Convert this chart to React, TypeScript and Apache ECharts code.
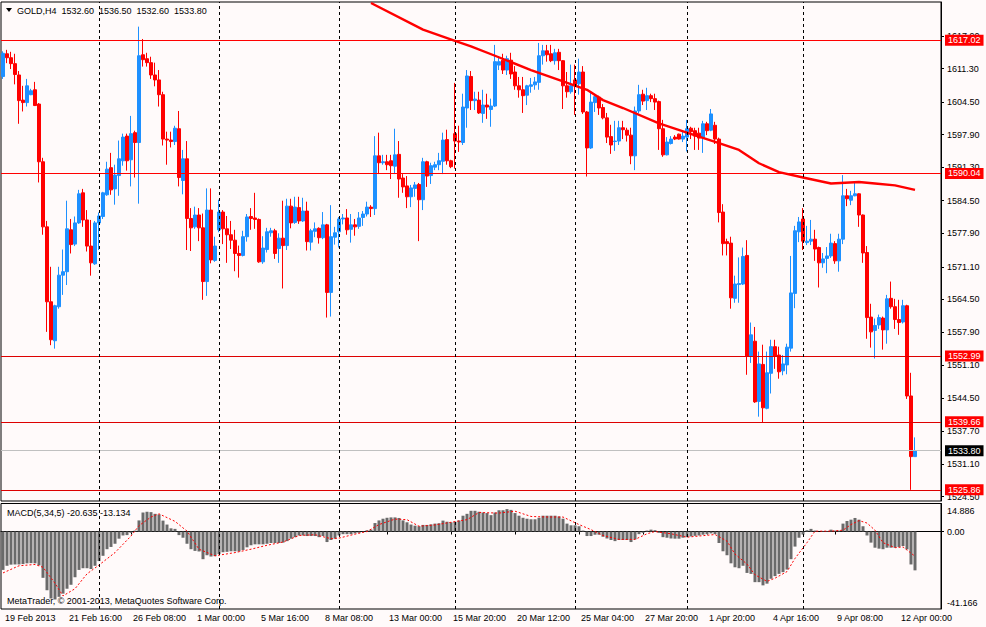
import React, { useEffect, useRef } from "react";
import * as echarts from "echarts";

const symbolName = "GOLD,H4";

const opens = [
  1609.7, 1614.3, 1613.5, 1612.3, 1610.0, 1604.9, 1604.4, 1606.0, 1607.0, 1604.1,
  1592.4, 1579.2, 1564.0, 1556.1, 1563.0, 1569.4, 1570.1, 1578.6, 1575.7, 1580.0,
  1586.1, 1580.6, 1575.3, 1571.7, 1580.0, 1581.3, 1585.7, 1591.2, 1586.9, 1589.6,
  1592.6, 1597.6, 1592.8, 1598.3, 1596.3, 1614.1, 1613.3, 1612.5, 1610.0, 1609.0,
  1606.0, 1597.0, 1596.8, 1596.5, 1599.1, 1588.6, 1593.0, 1580.9, 1579.2, 1581.6,
  1579.0, 1568.1, 1582.6, 1572.4, 1578.6, 1582.2, 1578.8, 1577.6, 1576.5, 1573.8,
  1573.4, 1577.2, 1581.3, 1581.0, 1580.7, 1572.1, 1574.6, 1578.0, 1578.4, 1574.8,
  1576.9, 1575.4, 1583.4, 1580.1, 1583.1, 1580.4, 1582.4, 1576.1, 1578.3, 1578.9,
  1577.0, 1579.6, 1565.9, 1577.1, 1578.2, 1580.8, 1581.0, 1578.7, 1579.6, 1579.3,
  1581.1, 1581.8, 1583.2, 1582.9, 1593.6, 1592.2, 1592.4, 1592.6, 1591.5, 1593.9,
  1589.1, 1587.5, 1585.3, 1587.0, 1587.8, 1584.7, 1592.4, 1589.6, 1591.3, 1591.8,
  1592.5, 1596.9, 1592.6, 1598.1, 1596.6, 1596.3, 1603.3, 1609.7, 1604.8, 1604.9,
  1602.2, 1603.9, 1603.0, 1603.7, 1612.0, 1613.0, 1611.0, 1613.0, 1610.6, 1607.8,
  1607.0, 1605.9, 1607.7, 1608.0, 1608.5, 1613.9, 1614.9, 1614.3, 1612.9, 1614.6,
  1612.9, 1607.8, 1606.6, 1609.0, 1608.2, 1610.6, 1602.5, 1595.2, 1604.4, 1605.5,
  1603.4, 1601.3, 1597.5, 1596.5, 1596.6, 1599.3, 1598.8, 1597.8, 1593.6, 1602.7,
  1606.1, 1604.8, 1605.8, 1605.2, 1604.6, 1599.1, 1593.8, 1596.1, 1597.4, 1598.0,
  1597.0, 1597.4, 1599.2, 1598.7, 1598.2, 1597.3, 1600.1, 1598.8, 1599.8, 1597.0,
  1582.2, 1576.2, 1575.9, 1564.7, 1567.5, 1567.6, 1573.4, 1552.9, 1556.0, 1543.8,
  1551.3, 1542.4, 1549.5, 1554.9, 1553.2, 1550.0, 1551.2, 1554.6, 1565.7, 1578.2,
  1580.8, 1576.0, 1576.3, 1576.7, 1575.0, 1571.9, 1572.8, 1573.3, 1575.8, 1572.3,
  1576.7, 1585.5, 1584.6, 1585.5, 1585.9, 1581.6, 1574.0, 1560.9, 1558.2, 1559.3,
  1560.7, 1558.3, 1564.7, 1563.0, 1560.4, 1559.9, 1563.2, 1544.9, 1532.6,
];

const highs = [
  1614.8, 1615.1, 1614.7, 1614.3, 1610.8, 1607.8, 1609.2, 1607.2, 1608.6, 1604.3,
  1593.2, 1580.4, 1571.1, 1563.4, 1571.1, 1574.6, 1584.5, 1580.8, 1581.3, 1586.7,
  1586.9, 1582.6, 1580.6, 1580.4, 1582.1, 1586.3, 1592.4, 1594.2, 1591.8, 1596.7,
  1598.1, 1598.1, 1601.7, 1598.7, 1619.8, 1617.3, 1614.5, 1613.7, 1612.5, 1611.0,
  1606.6, 1598.5, 1598.5, 1599.7, 1602.7, 1594.8, 1596.6, 1583.0, 1583.3, 1583.0,
  1581.9, 1587.0, 1587.0, 1577.2, 1584.7, 1582.6, 1581.4, 1580.4, 1578.6, 1575.4,
  1578.4, 1581.8, 1583.0, 1586.1, 1580.9, 1577.3, 1579.0, 1579.0, 1578.8, 1577.9,
  1584.5, 1584.9, 1584.9, 1585.3, 1585.3, 1585.1, 1584.3, 1578.8, 1580.1, 1579.1,
  1582.2, 1579.8, 1583.6, 1579.2, 1581.2, 1581.8, 1582.8, 1581.8, 1580.8, 1582.2,
  1582.4, 1584.3, 1583.6, 1597.6, 1598.3, 1593.8, 1593.8, 1593.8, 1599.1, 1596.6,
  1589.9, 1589.5, 1587.7, 1588.3, 1588.1, 1593.2, 1592.6, 1592.2, 1592.4, 1594.2,
  1598.3, 1598.9, 1592.8, 1608.4, 1599.7, 1606.2, 1611.0, 1610.8, 1606.6, 1606.6,
  1607.0, 1606.2, 1605.2, 1616.1, 1613.5, 1614.3, 1613.9, 1614.5, 1611.8, 1609.6,
  1609.6, 1608.0, 1609.4, 1609.6, 1616.5, 1616.1, 1616.1, 1616.1, 1615.3, 1615.3,
  1613.0, 1610.6, 1612.1, 1612.1, 1613.3, 1611.8, 1602.7, 1606.6, 1606.0, 1605.8,
  1604.1, 1602.3, 1599.9, 1600.7, 1600.7, 1600.7, 1599.3, 1599.3, 1603.6, 1608.0,
  1607.0, 1607.4, 1606.2, 1606.2, 1604.8, 1600.9, 1597.4, 1597.6, 1597.8, 1598.1,
  1598.5, 1600.9, 1599.5, 1599.3, 1599.3, 1600.7, 1600.5, 1603.1, 1600.5, 1597.3,
  1583.8, 1576.8, 1577.2, 1569.3, 1573.0, 1575.0, 1576.5, 1559.8, 1558.9, 1553.9,
  1555.3, 1553.9, 1556.3, 1556.3, 1554.9, 1553.2, 1555.5, 1573.3, 1579.4, 1581.2,
  1583.0, 1579.4, 1580.6, 1578.6, 1575.2, 1573.9, 1575.1, 1577.8, 1576.3, 1577.8,
  1589.7, 1586.9, 1586.5, 1588.1, 1586.0, 1581.7, 1575.3, 1563.6, 1560.6, 1561.4,
  1561.0, 1565.4, 1568.1, 1564.6, 1564.4, 1564.4, 1563.4, 1549.6, 1536.5,
];

const lows = [
  1609.2, 1612.4, 1611.2, 1608.1, 1600.1, 1602.6, 1603.6, 1605.9, 1603.7, 1588.2,
  1577.6, 1557.9, 1555.2, 1554.5, 1562.6, 1565.4, 1567.4, 1573.8, 1575.3, 1579.8,
  1579.2, 1574.2, 1569.3, 1571.5, 1574.5, 1580.8, 1585.5, 1585.7, 1583.7, 1585.5,
  1591.6, 1590.6, 1587.4, 1589.2, 1583.9, 1611.7, 1611.7, 1609.2, 1607.7, 1603.6,
  1595.7, 1591.8, 1595.3, 1595.8, 1587.4, 1585.8, 1574.5, 1574.3, 1578.8, 1576.3,
  1564.4, 1565.2, 1571.8, 1572.1, 1578.1, 1575.7, 1571.9, 1574.7, 1570.2, 1568.9,
  1573.2, 1576.2, 1578.6, 1578.8, 1571.9, 1571.7, 1574.0, 1577.2, 1572.7, 1571.9,
  1566.7, 1574.5, 1578.9, 1579.8, 1579.8, 1580.2, 1574.4, 1574.4, 1577.1, 1575.8,
  1576.7, 1560.8, 1561.0, 1575.6, 1575.0, 1579.7, 1577.6, 1576.0, 1577.4, 1578.8,
  1579.4, 1581.3, 1581.2, 1581.6, 1589.9, 1591.8, 1590.7, 1588.9, 1589.9, 1585.1,
  1586.1, 1583.0, 1583.2, 1585.3, 1576.3, 1582.6, 1587.3, 1587.9, 1590.7, 1590.7,
  1589.9, 1591.8, 1591.1, 1591.0, 1594.4, 1595.8, 1599.3, 1602.9, 1602.9, 1602.1,
  1600.3, 1601.1, 1599.5, 1603.5, 1611.0, 1610.2, 1610.0, 1609.2, 1607.0, 1605.4,
  1602.3, 1603.9, 1606.4, 1607.0, 1607.0, 1612.1, 1612.7, 1612.6, 1612.1, 1611.0,
  1603.1, 1605.4, 1606.2, 1601.9, 1606.0, 1602.1, 1589.4, 1595.0, 1602.5, 1601.9,
  1601.0, 1596.2, 1594.0, 1594.6, 1595.8, 1597.0, 1596.5, 1591.9, 1590.7, 1602.2,
  1603.9, 1602.9, 1604.5, 1602.9, 1594.8, 1593.4, 1593.7, 1595.9, 1596.8, 1596.9,
  1596.4, 1594.5, 1597.0, 1594.8, 1594.8, 1594.2, 1597.8, 1598.6, 1596.0, 1580.1,
  1573.4, 1573.4, 1562.6, 1563.8, 1563.8, 1567.4, 1549.2, 1551.6, 1543.5, 1540.7,
  1539.5, 1542.2, 1545.4, 1550.4, 1548.4, 1549.1, 1549.3, 1553.9, 1562.7, 1576.1,
  1574.5, 1575.5, 1575.5, 1572.3, 1566.9, 1570.9, 1569.8, 1572.9, 1571.7, 1570.1,
  1575.7, 1583.4, 1583.6, 1585.4, 1579.2, 1571.9, 1556.5, 1554.7, 1552.5, 1558.5,
  1554.3, 1555.5, 1562.6, 1558.5, 1557.3, 1559.6, 1544.3, 1525.86, 1532.6,
];

const closes = [
  1614.4, 1613.5, 1612.3, 1610.1, 1604.8, 1604.4, 1607.8, 1606.8, 1603.8, 1592.4,
  1579.2, 1564.0, 1556.3, 1563.2, 1569.4, 1570.1, 1578.8, 1575.6, 1580.0, 1585.9,
  1580.6, 1575.3, 1571.9, 1580.0, 1581.4, 1586.1, 1590.9, 1586.7, 1589.7, 1593.0,
  1597.4, 1592.6, 1598.1, 1596.3, 1613.9, 1613.1, 1612.5, 1610.0, 1609.0, 1606.0,
  1597.0, 1596.8, 1596.5, 1599.2, 1589.2, 1593.0, 1580.9, 1579.0, 1581.6, 1579.0,
  1568.1, 1582.6, 1572.5, 1575.3, 1582.2, 1578.8, 1577.6, 1576.5, 1573.8, 1573.4,
  1577.2, 1581.2, 1580.9, 1580.7, 1572.1, 1574.9, 1578.2, 1578.4, 1573.8, 1576.9,
  1575.4, 1583.4, 1580.0, 1583.2, 1580.4, 1582.4, 1576.2, 1578.4, 1578.8, 1577.0,
  1579.6, 1565.9, 1577.2, 1578.0, 1580.8, 1581.0, 1578.6, 1579.6, 1579.2, 1581.0,
  1581.8, 1583.2, 1582.9, 1593.6, 1592.2, 1592.4, 1591.8, 1591.6, 1593.8, 1588.9,
  1587.3, 1585.3, 1587.1, 1587.7, 1584.7, 1592.4, 1589.5, 1591.6, 1591.8, 1592.6,
  1596.8, 1592.6, 1591.4, 1596.6, 1596.4, 1603.5, 1609.8, 1604.8, 1605.1, 1602.3,
  1603.9, 1603.5, 1603.7, 1612.7, 1612.7, 1611.0, 1613.3, 1610.2, 1607.8, 1607.0,
  1605.8, 1607.8, 1608.0, 1608.6, 1613.9, 1614.9, 1614.1, 1612.9, 1614.5, 1612.9,
  1607.8, 1606.6, 1607.8, 1607.8, 1610.6, 1602.5, 1595.2, 1604.5, 1605.6, 1603.3,
  1601.3, 1597.4, 1595.8, 1596.6, 1599.3, 1598.9, 1597.8, 1593.6, 1602.7, 1606.0,
  1604.7, 1605.8, 1605.2, 1604.5, 1599.1, 1593.8, 1596.4, 1597.0, 1597.0, 1597.0,
  1597.6, 1599.1, 1598.5, 1597.6, 1597.2, 1600.1, 1598.7, 1602.1, 1597.0, 1582.1,
  1575.8, 1575.8, 1564.8, 1567.6, 1567.7, 1573.2, 1552.9, 1557.3, 1543.7, 1551.4,
  1542.5, 1549.6, 1554.9, 1552.9, 1549.8, 1551.4, 1554.8, 1565.8, 1578.4, 1580.2,
  1576.3, 1576.3, 1576.7, 1574.7, 1571.9, 1572.7, 1573.3, 1575.9, 1572.3, 1576.7,
  1585.5, 1584.9, 1585.5, 1585.9, 1581.6, 1573.9, 1560.8, 1557.9, 1559.2, 1560.8,
  1558.3, 1564.6, 1563.0, 1560.4, 1559.8, 1563.2, 1544.9, 1532.6, 1533.8,
];

// moving average read at points along the line: [bar index, price]
const maPoints = [
  [92, 1624.6], [105, 1619.2], [113, 1616.9], [117, 1615.8], [123, 1613.9],
  [132, 1611.0], [140, 1608.7], [146, 1607.0], [150, 1604.9], [155, 1603.3],
  [164, 1600.2], [174, 1597.5], [179, 1596.2], [184, 1594.8], [189, 1592.1],
  [194, 1590.3], [200, 1589.2], [207, 1588.0], [214, 1588.3], [218, 1588.0],
  [223, 1587.6], [228, 1586.7],
];

const macdHist = [
  -20.4, -18.2, -17.6, -17.5, -17.5, -17.3, -16.9, -16.8, -16.9, -18.0,
  -24.6, -31.2, -35.6, -36.1, -34.7, -33.0, -30.4, -28.3, -24.3, -20.4,
  -19.5, -19.5, -19.9, -18.2, -15.7, -12.9, -9.4, -8.2, -6.5, -3.8,
  -2.1, -1.9, -0.7, 0.5, 5.9, 10.1, 10.5, 10.3, 9.4, 9.1,
  5.8, 3.7, 1.7, 1.4, -1.9, -3.3, -6.5, -9.4, -10.3, -10.6,
  -14.7, -12.6, -13.3, -13.1, -12.0, -11.0, -10.8, -10.5, -10.5, -10.6,
  -9.8, -8.4, -7.3, -6.8, -6.8, -6.8, -6.5, -6.1, -6.1, -6.1,
  -5.9, -5.1, -3.8, -3.0, -2.1, -2.1, -2.4, -2.4, -2.4, -3.0,
  -2.4, -5.6, -4.5, -3.8, -2.1, -1.4, -1.4, -1.4, -1.0, -0.7,
  -0.2, 0.7, 1.0, 4.5, 5.9, 6.8, 7.3, 7.5, 7.5, 7.2,
  5.9, 4.9, 3.7, 3.1, 2.8, 3.5, 3.5, 3.8, 4.2, 4.4,
  5.8, 5.2, 4.9, 5.2, 5.9, 8.4, 9.4, 11.0, 11.0, 10.5,
  10.1, 9.8, 8.7, 10.1, 11.3, 11.3, 11.9, 11.5, 9.8, 8.4,
  7.3, 6.8, 6.5, 6.5, 7.3, 8.4, 8.4, 8.4, 8.4, 8.0,
  6.8, 4.2, 3.3, 3.3, 2.8, 0.5, -2.4, -2.4, -1.7, -1.7,
  -2.8, -3.7, -4.5, -5.1, -4.5, -4.5, -4.5, -5.6, -4.2, -1.4,
  -0.7, 0.5, 1.0, 0.7, -0.7, -3.0, -3.3, -3.7, -3.8, -3.8,
  -3.3, -3.0, -2.6, -2.3, -2.1, -1.7, -1.4, -1.0, -1.4, -6.1,
  -10.5, -12.6, -16.9, -19.0, -19.5, -18.2, -22.0, -22.5, -26.9, -26.9,
  -28.6, -27.7, -25.1, -23.7, -22.5, -21.6, -20.2, -14.7, -8.0, -3.3,
  -1.6, 0.7, 1.4, 0.5, 0.0, 0.3, 0.3, 1.0, 0.5, 0.5,
  4.2, 5.6, 6.3, 7.2, 6.3, 2.8, -2.1, -5.9, -8.6, -9.1,
  -9.4, -8.6, -8.6, -8.6, -8.2, -7.7, -9.5, -17.5, -20.635,
];

// signal line read at points: [bar index, value]
const macdSignal = [
  [0, -22.0], [4, -18.2], [8, -17.5], [10, -19.0], [13, -27.5], [15, -34.2],
  [18, -30.4], [21, -22.5], [24, -17.8], [28, -11.2], [32, -2.4], [34, 3.1],
  [37, 7.7], [39, 9.4], [43, 5.4], [46, 0.2], [49, -9.4], [53, -12.9],
  [58, -11.2], [62, -9.4], [66, -7.3], [70, -5.6], [74, -2.1], [78, -1.7],
  [82, -3.8], [84, -3.5], [88, -1.4], [91, 0.0], [94, 3.7], [98, 6.6],
  [101, 6.3], [104, 2.8], [108, 3.5], [112, 4.9], [116, 6.3], [119, 10.1],
  [124, 9.8], [128, 10.8], [132, 8.0], [136, 7.7], [140, 7.7], [144, 3.7],
  [147, 1.0], [150, -2.1], [154, -4.2], [158, -4.2], [161, -1.2], [163, 0.0],
  [167, -1.2], [171, -3.0], [178, -1.6], [181, -5.1], [183, -12.0], [186, -17.3],
  [188, -23.0], [191, -26.5], [193, -24.8], [196, -21.3], [198, -14.3], [201, -5.9],
  [203, 0.2], [207, 0.2], [210, 0.7], [212, 3.7], [214, 5.8], [216, 4.5],
  [218, 0.7], [220, -5.9], [223, -8.6], [225, -8.2], [228, -13.134],
];

const timeLabels = [
  "19 Feb 2013", "21 Feb 16:00", "26 Feb 08:00", "1 Mar 00:00", "5 Mar 16:00",
  "8 Mar 08:00", "13 Mar 00:00", "15 Mar 20:00", "20 Mar 12:00", "25 Mar 04:00",
  "27 Mar 20:00", "1 Apr 20:00", "4 Apr 16:00", "9 Apr 08:00", "12 Apr 00:00",
];
const labelStep = 16;

const priceTicks = [
  1617.9, 1611.3, 1604.5, 1597.9, 1591.3, 1584.5, 1577.9, 1571.1,
  1564.5, 1557.9, 1551.1, 1544.5, 1537.7, 1531.1, 1524.5,
];
const levelLines = [1617.02, 1590.04, 1552.99, 1539.66, 1525.86];
const weekSeparators = [24, 54, 84, 113, 143, 171, 200];
const macdMax = 14.886;
const macdMin = -41.166;
const macdTicks = [macdMax, 0, macdMin];

const SLOTS = 235;
const FONT = "'Liberation Sans', Arial, sans-serif";

export default function App() {
  const ref = useRef<HTMLDivElement>(null);

  useEffect(() => {
    if (!ref.current) return;
    const chart = echarts.init(ref.current, null, { renderer: "svg" });
    const last = opens.length - 1;
    const f2 = (v: number) => v.toFixed(2);
    const categories = Array.from({ length: SLOTS }, (_, i) => String(i));
    const candles = opens.map((o, i) => [o, closes[i], lows[i], highs[i]]);

    const sepLines = weekSeparators.map((i) => ({
      xAxis: i,
      lineStyle: { color: "#000", type: [3, 3], width: 1 },
      label: { show: false },
    }));

    const boxLabel = (v: number, bg: string) => ({
      show: true,
      position: "end",
      formatter: f2(v),
      backgroundColor: bg,
      color: "#fff",
      fontSize: 9,
      fontFamily: FONT,
      lineHeight: 10,
      padding: [1, 3, 0, 3],
      distance: 4,
    });

    const option: any = {
      animation: false,
      backgroundColor: "#FFFAFA",
      textStyle: { fontFamily: FONT },
      grid: [
        {
          left: 1, top: 2, width: 940, height: 499,
          show: true, borderColor: "#000", borderWidth: 1,
          backgroundColor: "rgba(0,0,0,0)",
          containLabel: false, outerBoundsMode: "none",
        },
        {
          left: 1, top: 503.5, width: 940, height: 105.5,
          show: true, borderColor: "#000", borderWidth: 1,
          backgroundColor: "rgba(0,0,0,0)",
          containLabel: false, outerBoundsMode: "none",
        },
      ],
      xAxis: [
        {
          type: "category", gridIndex: 0, data: categories,
          axisLine: { show: false }, axisTick: { show: false },
          axisLabel: { show: false }, splitLine: { show: false },
        },
        {
          type: "category", gridIndex: 1, data: categories,
          axisLine: { show: true, lineStyle: { color: "#000" } },
          axisTick: {
            show: true, alignWithLabel: true, length: 3,
            interval: (i: number) => i % labelStep === 0,
            lineStyle: { color: "#000" },
          },
          axisLabel: {
            show: true,
            interval: (i: number) => i % labelStep === 0,
            formatter: (_v: string, i: number) => timeLabels[i / labelStep] ?? "",
            align: "left", margin: 4, padding: [0, 0, 0, 2],
            color: "#000", fontSize: 9, fontFamily: FONT,
          },
          splitLine: { show: false },
        },
      ],
      yAxis: [
        {
          type: "value", gridIndex: 0, position: "right",
          min: 1523.6, max: 1624.8,
          axisLine: { show: true, lineStyle: { color: "#000" } },
          axisTick: { show: true, length: 3, customValues: priceTicks, lineStyle: { color: "#000" } },
          axisLabel: {
            customValues: priceTicks, formatter: (v: number) => f2(v),
            color: "#000", fontSize: 9, fontFamily: FONT, margin: 6,
          },
          splitLine: { show: false },
        },
        {
          type: "value", gridIndex: 1, position: "right",
          min: macdMin, max: macdMax,
          axisLine: { show: true, lineStyle: { color: "#000" } },
          axisTick: { show: true, length: 3, customValues: [0], lineStyle: { color: "#000" } },
          axisLabel: {
            customValues: macdTicks,
            formatter: (v: number) =>
              v === 0 ? "{z|0.00}" : v > 0 ? `{t|${v.toFixed(3)}}` : `{b|${v.toFixed(3)}}`,
            margin: 6,
            rich: {
              z: { fontSize: 9, fontFamily: FONT, color: "#000" },
              t: { fontSize: 9, fontFamily: FONT, color: "#000", padding: [14, 0, 0, 0] },
              b: { fontSize: 9, fontFamily: FONT, color: "#000", padding: [0, 0, 12, 0] },
            },
          },
          splitLine: { show: false },
        },
      ],
      series: [
        {
          type: "candlestick",
          xAxisIndex: 0, yAxisIndex: 0,
          data: candles,
          barWidth: 3,
          itemStyle: {
            color: "#1E90FF", color0: "#FF0000",
            borderColor: "#1E90FF", borderColor0: "#FF0000",
            borderWidth: 1,
          },
          z: 2,
          markLine: {
            silent: true, symbol: ["none", "none"], animation: false,
            data: [
              ...levelLines.map((v, k) => ({
                yAxis: v,
                lineStyle: { color: k < 2 ? "#FF0000" : "#DD0000", width: 1, type: "solid" },
                label: boxLabel(v, "#FF0000"),
              })),
              {
                yAxis: closes[last],
                lineStyle: { color: "#C0C0C0", width: 1, type: "solid" },
                label: boxLabel(closes[last], "#000000"),
              },
              ...sepLines,
            ],
          },
        },
        {
          type: "line",
          xAxisIndex: 0, yAxisIndex: 0,
          data: maPoints,
          symbol: "none", showSymbol: false,
          lineStyle: { color: "#FF0000", width: 2.4 },
          clip: true, z: 3,
        },
        {
          type: "bar",
          xAxisIndex: 1, yAxisIndex: 1,
          data: macdHist,
          barWidth: 3,
          itemStyle: { color: "#6A6A6A" },
          markLine: {
            silent: true, symbol: ["none", "none"], animation: false,
            data: sepLines,
          },
        },
        {
          type: "line",
          xAxisIndex: 1, yAxisIndex: 1,
          data: macdSignal,
          symbol: "none", showSymbol: false,
          lineStyle: { color: "#FF0000", width: 1, type: [2, 2] },
          z: 3,
        },
      ],
      graphic: [
        {
          type: "polygon",
          shape: { points: [[6, 8], [12, 8], [9, 12]] },
          style: { fill: "#000" },
        },
        {
          type: "text", x: 17, y: 10.5,
          style: {
            text: `${symbolName}\u00a0\u00a0${f2(opens[last])}\u00a0\u00a0${f2(highs[last])}\u00a0\u00a0${f2(lows[last])}\u00a0\u00a0${f2(closes[last])}`,
            fill: "#000", fontSize: 9, fontFamily: FONT, verticalAlign: "middle",
          },
        },
        {
          type: "text", x: 7, y: 512.5,
          style: {
            text: `MACD(5,34,5) ${macdHist[last].toFixed(3)} ${macdSignal[macdSignal.length - 1][1].toFixed(3)}`,
            fill: "#000", fontSize: 9, fontFamily: FONT, verticalAlign: "middle",
          },
        },
        {
          type: "text", x: 7, y: 601,
          style: {
            text: "MetaTrader, \u00a9 2001-2013, MetaQuotes Software Corp.",
            fill: "#000", fontSize: 9, fontFamily: FONT, verticalAlign: "middle",
          },
        },
      ],
    };

    chart.setOption(option);
    return () => chart.dispose();
  }, []);

  return (
    <div
      ref={ref}
      style={{ position: "fixed", left: 0, top: 0, width: 986, height: 627 }}
    />
  );
}
